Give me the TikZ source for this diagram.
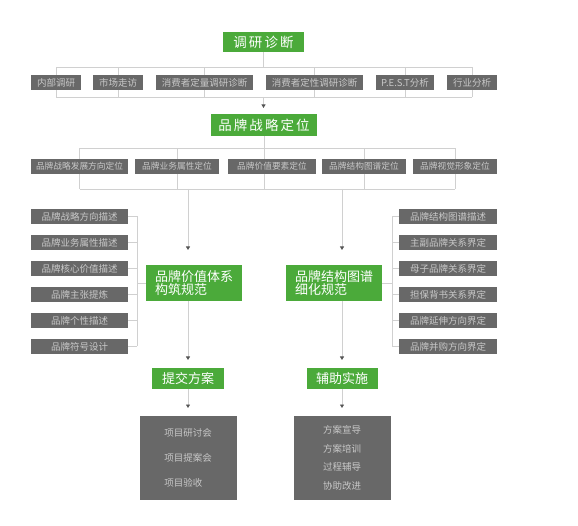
\documentclass[tikz,border=0pt]{standalone}
\usepackage{fontspec}
\setmainfont{Noto Sans CJK SC}
\newfontfamily\widecjk[LetterSpace=15]{Noto Sans CJK SC}
\usetikzlibrary{arrows.meta}
\definecolor{brandgreen}{HTML}{4BAA3A}
\definecolor{boxgray}{HTML}{686868}
\definecolor{itemtext}{HTML}{C8C8C8}
\definecolor{linegray}{HTML}{D0D0D0}
\definecolor{tipgray}{HTML}{555555}

\begin{document}
\begin{tikzpicture}[
		x=1pt, y=-1pt,
		every node/.style={inner sep=0pt, outer sep=0pt},
		item/.style={fill=boxgray, text=itemtext, minimum height=15pt, font=\fontsize{9.5}{10}\selectfont},
		small item/.style={item, font=\fontsize{8.7}{10}\selectfont},
		stage/.style={fill=brandgreen, text=white, font=\widecjk\fontsize{13.5}{14}\selectfont},
		plan/.style={fill=brandgreen, text=white, minimum width=96pt, minimum height=36pt, align=left, font=\fontsize{13}{13.5}\selectfont},
		step box/.style={fill=brandgreen, text=white, minimum height=21pt, font=\fontsize{13}{14}\selectfont},
		result/.style={fill=boxgray, text=itemtext, minimum width=97pt, minimum height=84pt, align=left},
		link/.style={draw=linegray, line width=0.8pt},
		flow/.style={link, -{Triangle[width=4pt,length=3.5pt,color=tipgray]}}
	]
		\useasboundingbox (0,0) rectangle (578,526);

		% research
		\node[stage, minimum width=81pt, minimum height=20pt] (d0) at (263.5,42) {调研诊断};
		\node[item, minimum width=50pt] (r1) at (56,82.5) {内部调研};
		\node[item, minimum width=50pt] (r2) at (118,82.5) {市场走访};
		\node[item, minimum width=97pt] (r3) at (204.5,82.5) {消费者定量调研诊断};
		\node[item, minimum width=97pt] (r4) at (314.5,82.5) {消费者定性调研诊断};
		\node[item, minimum width=58pt] (r5) at (405,82.5) {P.E.S.T分析};
		\node[item, minimum width=50pt] (r6) at (472,82.5) {行业分析};
		\coordinate (t1) at (0,67);
		\coordinate (b1) at (0,97);

		% positioning
		\node[stage, minimum width=106pt, minimum height=22pt] (s0) at (264,125) {品牌战略定位};
		\node[small item, minimum width=97pt] (p1) at (79.5,166.5) {品牌战略发展方向定位};
		\node[small item, minimum width=84pt] (p2) at (177,166.5) {品牌业务属性定位};
		\node[small item, minimum width=88pt] (p3) at (272,166.5) {品牌价值要素定位};
		\node[small item, minimum width=84pt] (p4) at (364,166.5) {品牌结构图谱定位};
		\node[small item, minimum width=84pt] (p5) at (455,166.5) {品牌视觉形象定位};
		\coordinate (t2) at (0,148);
		\coordinate (b2) at (0,189);

		% two plans
		\node[plan] (v1) at (194,283) {品牌价值体系\\构筑规范};
		\node[plan] (v2) at (334,283) {品牌结构图谱\\细化规范};
		\coordinate (lx) at (188,0);
		\coordinate (rx) at (342,0);
		\coordinate (lb) at (137,0);
		\coordinate (rb) at (392,0);

		\node[item, minimum width=97pt] (a1) at (79.5,216.5) {品牌战略方向描述};
		\node[item, minimum width=97pt] (a2) at (79.5,242.5) {品牌业务属性描述};
		\node[item, minimum width=97pt] (a3) at (79.5,268.5) {品牌核心价值描述};
		\node[item, minimum width=97pt] (a4) at (79.5,294.5) {品牌主张提炼};
		\node[item, minimum width=97pt] (a5) at (79.5,320.5) {品牌个性描述};
		\node[item, minimum width=97pt] (a6) at (79.5,346.5) {品牌符号设计};

		\node[item, minimum width=98pt] (m1) at (448,216.5) {品牌结构图谱描述};
		\node[item, minimum width=98pt] (m2) at (448,242.5) {主副品牌关系界定};
		\node[item, minimum width=98pt] (m3) at (448,268.5) {母子品牌关系界定};
		\node[item, minimum width=98pt] (m4) at (448,294.5) {担保背书关系界定};
		\node[item, minimum width=98pt] (m5) at (448,320.5) {品牌延伸方向界定};
		\node[item, minimum width=98pt] (m6) at (448,346.5) {品牌并购方向界定};

		% delivery
		\node[step box, minimum width=72pt] (c1) at (188,378.5) {提交方案};
		\node[step box, minimum width=71pt] (c2) at (342,378.5) {辅助实施};
		\node[result, font=\fontsize{9.5}{25}\selectfont] (e1) at (188,458) {项目研讨会\\项目提案会\\项目验收};
		\node[result, font=\fontsize{9.5}{18.7}\selectfont] (e2) at (342,458) {方案宣导\\方案培训\\过程辅导\\协助改进};

		% research bracket
		\draw[link] (d0.south) -- (d0.south |- t1);
		\draw[link] (r1 |- t1) -- (r6 |- t1);
		\draw[link] (r1 |- b1) -- (r6 |- b1);
		\draw[link] (r1.north) -- (r1 |- t1) (r1.south) -- (r1 |- b1);
		\draw[link] (r2.north) -- (r2 |- t1) (r2.south) -- (r2 |- b1);
		\draw[link] (r3.north) -- (r3 |- t1) (r3.south) -- (r3 |- b1);
		\draw[link] (r4.north) -- (r4 |- t1) (r4.south) -- (r4 |- b1);
		\draw[link] (r5.north) -- (r5 |- t1) (r5.south) -- (r5 |- b1);
		\draw[link] (r6.north) -- (r6 |- t1) (r6.south) -- (r6 |- b1);
		\draw[flow, shorten >=6pt] (d0 |- b1) -- (s0.north -| d0);

		% positioning bracket
		\draw[link] (s0.south) -- (s0.south |- p3.north);
		\draw[link] (p1 |- t2) -- (p5 |- t2);
		\draw[link] (p1 |- b2) -- (p5 |- b2);
		\draw[link] (p1.north) -- (p1 |- t2) (p1.south) -- (p1 |- b2);
		\draw[link] (p2.north) -- (p2 |- t2) (p2.south) -- (p2 |- b2);
		\draw[link] (s0 |- p3.south) -- (s0 |- b2);
		\draw[link] (p4.north) -- (p4 |- t2) (p4.south) -- (p4 |- b2);
		\draw[link] (p5.north) -- (p5 |- t2) (p5.south) -- (p5 |- b2);
		\draw[flow, shorten >=15pt] (lx |- b2) -- (v1.north -| lx);
		\draw[flow, shorten >=15pt] (rx |- b2) -- (v2.north -| rx);

		% side brackets
		\draw[link] (a1.east -| lb) -- (a6.east -| lb);
		\draw[link] (a1.east) -- (a1.east -| lb);
		\draw[link] (a2.east) -- (a2.east -| lb);
		\draw[link] (a3.east) -- (a3.east -| lb);
		\draw[link] (a4.east) -- (a4.east -| lb);
		\draw[link] (a5.east) -- (a5.east -| lb);
		\draw[link] (a6.east) -- (a6.east -| lb);
		\draw[link] (lb |- v1) -- (v1.west);
		\draw[link] (m1.west -| rb) -- (m6.west -| rb);
		\draw[link] (m1.west) -- (m1.west -| rb);
		\draw[link] (m2.west) -- (m2.west -| rb);
		\draw[link] (m3.west) -- (m3.west -| rb);
		\draw[link] (m4.west) -- (m4.west -| rb);
		\draw[link] (m5.west) -- (m5.west -| rb);
		\draw[link] (m6.west) -- (m6.west -| rb);
		\draw[link] (v2.east) -- (rb |- v2);

		% delivery arrows
		\draw[flow, shorten >=8pt] (v1.south -| lx) -- (c1.north);
		\draw[flow, shorten >=8pt] (v2.south -| rx) -- (c2.north);
		\draw[flow, shorten >=8pt] (c1.south) -- (e1.north);
		\draw[flow, shorten >=8pt] (c2.south) -- (e2.north);
	\end{tikzpicture}
\end{document}
